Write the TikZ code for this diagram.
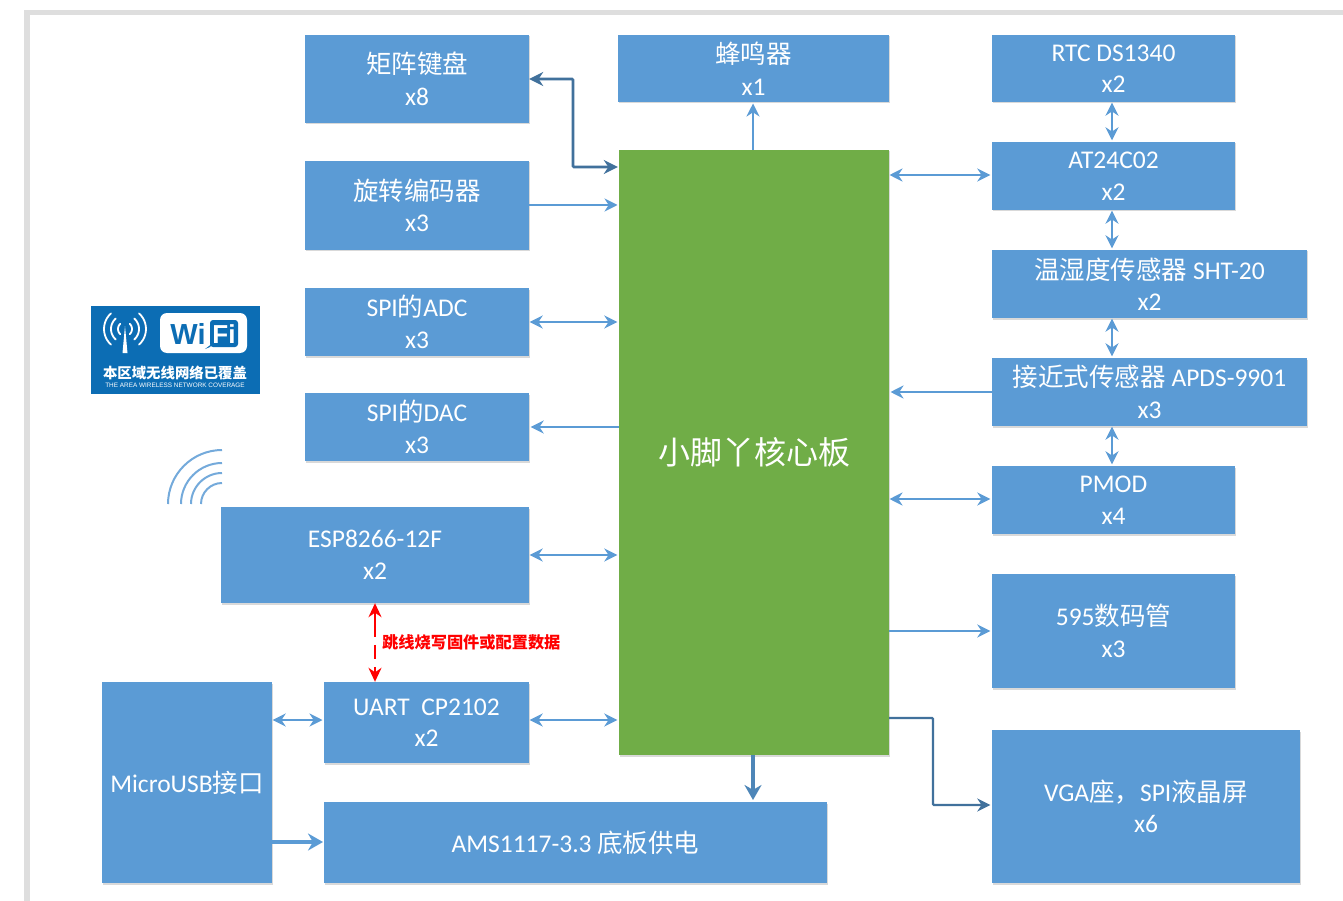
\documentclass[tikz,border=0pt]{standalone}
\usepackage{fontspec}
\setmainfont{Carlito}
\newfontfamily\cjk{Noto Sans CJK SC}
\newfontfamily\lib{Liberation Sans}
\newcommand\zh[1]{{\cjk #1}}
\usetikzlibrary{arrows.meta,calc}
\definecolor{boxblue}{HTML}{5B9BD5}
\definecolor{boxgreen}{HTML}{70AD47}
\definecolor{darkarrow}{HTML}{41719C}
\definecolor{badge}{HTML}{0C6DB4}
\definecolor{frameg}{HTML}{DEDEDE}
\tikzset{
  bluebox/.style={fill=boxblue,inner sep=0pt,text=white,align=center,
    font=\fontsize{25.5}{31.5}\selectfont,
    preaction={fill=black!15,transform canvas={xshift=0.8pt,yshift=-1.5pt}}},
  corebox/.style={bluebox,fill=boxgreen,font=\fontsize{32}{38}\selectfont},
  link/.style={draw=boxblue,line width=2.4pt,shorten >=1.5pt,-{Stealth[length=13pt,width=13pt]}},
  linkboth/.style={draw=boxblue,line width=2.4pt,shorten >=1.5pt,shorten <=0.5pt,{Stealth[length=13pt,width=13pt]}-{Stealth[length=13pt,width=13pt]}},
  darklink/.style={draw=darkarrow,line width=2.4pt,shorten >=1.5pt,rounded corners=1pt,-{Stealth[length=13pt,width=13pt]}},
  darkboth/.style={draw=darkarrow,line width=2.8pt,shorten >=1pt,rounded corners=1pt,{Stealth[length=14pt,width=14pt]}-{Stealth[length=14pt,width=14pt]}},
  fatlink/.style={draw=boxblue,line width=4pt,shorten >=1pt,-{Stealth[length=15pt,width=17pt]}},
  fatdark/.style={draw=darkarrow!50!boxblue,line width=4pt,shorten >=2pt,-{Stealth[length=15pt,width=17pt]}},
  redlink/.style={draw=red,line width=2pt,dash pattern=on 25pt off 8pt on 14pt off 8pt on 60pt,{Stealth[length=14pt,width=13pt]}-{Stealth[length=14pt,width=13pt]}},
  redlabel/.style={text=red,inner sep=0pt,font=\cjk\bfseries\fontsize{16.2}{18}\selectfont},
  radio/.style={draw=boxblue!85!white,line width=2pt},
  antenna/.style={draw=white,line width=1.8pt,line cap=round},
}
\newcommand\bx[6]{\node[bluebox,minimum width={(#4-#2)*1pt},minimum height={(#5-#3)*1pt}] (#1) at ({(#2+#4)/2},{(#3+#5)/2}) {#6};}
\begin{document}
\begin{tikzpicture}[x=1pt,y=-1pt]
\useasboundingbox (0,0) rectangle (1343,901);
\fill[white] (0,0) rectangle (1343,901);
% page frame
\fill[frameg] (24,10) rectangle (1343,15.5);
\fill[frameg] (24,10) rectangle (29.5,901);
% boxes
\bx{mat}{305}{35}{529}{123}{\zh{矩阵键盘}\\x8}
\bx{beep}{618}{35}{889}{102}{\zh{蜂鸣器}\\x1}
\bx{rtc}{992}{35}{1235}{102}{RTC DS1340\\x2}
\bx{at}{992}{142}{1235}{210}{AT24C02\\x2}
\bx{sht}{992}{250}{1307}{318}{\zh{温湿度传感器} SHT-20\\x2}
\bx{apds}{992}{358}{1307}{426}{\zh{接近式传感器} APDS-9901\\x3}
\bx{pmod}{992}{466}{1235}{534}{PMOD\\x4}
\bx{seg}{992}{574}{1235}{688}{595\zh{数码管}\\x3}
\bx{vga}{992}{730}{1300}{883}{VGA\zh{座，}SPI\zh{液晶屏}\\x6}
\bx{enc}{305}{161}{529}{250}{\zh{旋转编码器}\\x3}
\bx{adc}{305}{288}{529}{356}{SPI\zh{的}ADC\\x3}
\bx{dac}{305}{393}{529}{461}{SPI\zh{的}DAC\\x3}
\bx{esp}{221}{507}{529}{603}{ESP8266-12F\\x2}
\bx{uart}{324}{682}{529}{763}{UART\ \ CP2102\\x2}
\bx{usb}{102}{682}{272}{883}{MicroUSB\zh{接口}}
\bx{ams}{324}{802}{827}{883}{AMS1117-3.3 \zh{底板供电}}
\node[corebox,minimum width=270pt,minimum height=605pt] (core) at (754,452.5) {\zh{小脚丫核心板}};
% bend and level helpers
\coordinate (matbend) at (573,167);
\coordinate (vgabend) at (933,718);
\coordinate (vgalevel) at (933,805);
\coordinate (enclevel) at (619,205);
\coordinate (atlevel) at (889,175);
\coordinate (apdslevel) at (889,392);
\coordinate (pmodlevel) at (889,499);
\coordinate (seglevel) at (889,631);
\coordinate (uartlevel) at (324,720);
\coordinate (beepx) at (753,102);
\coordinate (amsx) at (753,802);
\coordinate (usblevel) at (272,842);
\coordinate (amslevel) at (324,842);
\coordinate (jumpx) at (375,0);
\coordinate (col) at (1112,0);
% connectors left
\draw[darkboth] (mat.east) -| (matbend) -- (matbend -| core.west);
\draw[link] (enclevel -| enc.east) -- (enclevel);
\draw[linkboth] (adc.east) -- (adc.east -| core.west);
\draw[link] (dac.east -| core.west) -- (dac.east);
\draw[linkboth] (esp.east) -- (esp.east -| core.west);
\draw[linkboth] (uartlevel -| uart.east) -- (uartlevel -| core.west);
\draw[linkboth] (uartlevel -| usb.east) -- (uartlevel);
\draw[fatlink] (usblevel) -- (amslevel);
\draw[redlink] (jumpx |- esp.south) -- (jumpx |- uart.north);
% connectors top and bottom
\draw[link] (beepx |- core.north) -- (beepx);
\draw[fatdark] (amsx |- core.south) -- (amsx);
% connectors right
\draw[linkboth] (atlevel) -- (atlevel -| at.west);
\draw[link] (apdslevel -| apds.west) -- (apdslevel);
\draw[linkboth] (pmodlevel) -- (pmodlevel -| pmod.west);
\draw[link] (seglevel) -- (seglevel -| seg.west);
\draw[darklink] (vgabend -| core.east) -- (vgabend) -- (vgalevel) -- (vgalevel -| vga.west);
\draw[linkboth] (col |- rtc.south) -- (col |- at.north);
\draw[linkboth] (col |- at.south) -- (col |- sht.north);
\draw[linkboth] (col |- sht.south) -- (col |- apds.north);
\draw[linkboth] (col |- apds.south) -- (col |- pmod.north);
% red label
\node[redlabel,anchor=west] (jump) at (382,642) {跳线烧写固件或配置数据};
% radio waves
\foreach \r in {21,31,41,54}
  \draw[radio] ({222-\r},504) .. controls ({222-\r},{504-0.55*\r}) and ({222-0.55*\r},{504-\r}) .. (222,{504-\r});
% wifi badge
\fill[badge] (91,306) rectangle (260,394);
\fill[white,rounded corners=7pt] (160,313) rectangle (247,353);
\fill[badge,rounded corners=3pt] (210,320) rectangle (238,347);
\fill[badge] (210,347) -- (205,349) -- (213,343) -- cycle;
\node[text=badge,inner sep=0pt,font=\lib\bfseries\fontsize{29}{29}\selectfont] (wifiwi) at (188,334) {Wi};
\node[text=white,inner sep=0pt,font=\lib\bfseries\fontsize{26}{26}\selectfont] (wififi) at (224,334) {Fi};
\foreach \r in {7,14,21}{
  \draw[antenna] plot[domain=-48:48,samples=13] ({125+\r*cos(\x)},{329+\r*sin(\x)});
  \draw[antenna] plot[domain=132:228,samples=13] ({125+\r*cos(\x)},{329+\r*sin(\x)});
}
\fill[white] (125,326) -- (127.5,353) -- (122.5,353) -- cycle;
\node[text=white,inner sep=0pt,font=\cjk\bfseries\fontsize{14.4}{15}\selectfont] (wifizh) at (175,373) {本区域无线网络已覆盖};
\node[text=white,inner sep=0pt,font=\lib\fontsize{6.4}{7}\selectfont] (wifien) at (175,385.5) {THE AREA WIRELESS NETWORK COVERAGE};
\end{tikzpicture}
\end{document}
